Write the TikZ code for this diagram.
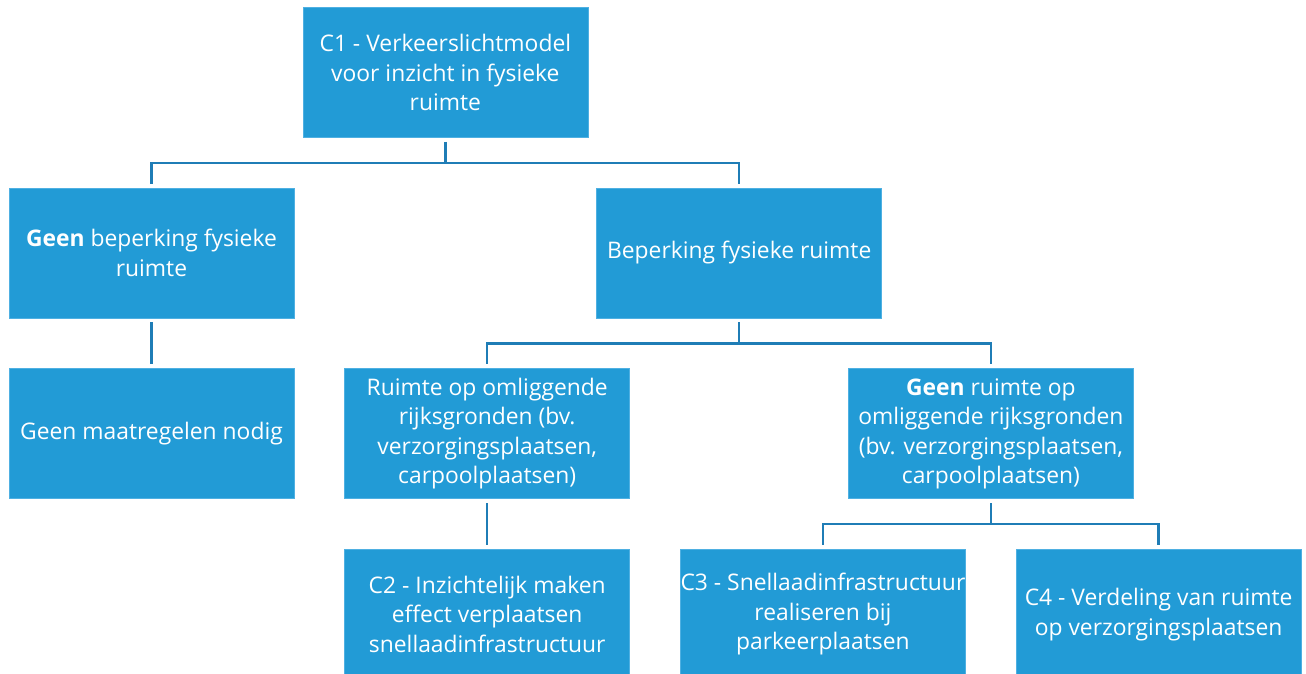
\documentclass[tikz,border=0pt]{standalone}
\usepackage{fontspec}
\setmainfont{Open Sans}
\usetikzlibrary{positioning,calc}
\definecolor{boxblue}{HTML}{229BD6}
\definecolor{boxedge}{HTML}{4FB0E2}
\definecolor{linkblue}{HTML}{1F7DB6}
\begin{document}
\begin{tikzpicture}[box/.style={draw=boxedge, line width=0.4pt, fill=boxblue, text=white, align=center, minimum width=5.7cm, minimum height=2.6cm, inner sep=0pt, font=\fontsize{13}{16.8}\selectfont}, link/.style={draw=linkblue, line width=1.4pt}, node distance=1cm and 1cm]
\useasboundingbox (-3.03,5.06) rectangle (23.09,-8.42);
\node[box] (nolimit) {\textbf{Geen} beperking fysieke\\ruimte};
\node[box, right=6.04cm of nolimit] (limit) {Beperking fysieke ruimte};
\path (nolimit) -- (limit) coordinate[midway] (mid);
\node[box, above=2.3cm of mid] (c1) {C1 - Verkeerslichtmodel\\voor inzicht in fysieke\\ruimte};
\node[box, below=of nolimit] (nomeasure) {Geen maatregelen nodig};
\node[box, right=of nomeasure] (space) {Ruimte op omliggende\\rijksgronden (bv.\\verzorgingsplaatsen,\\carpoolplaatsen)};
\node[box, right=4.36cm of space] (nospace) {\textbf{Geen} ruimte op\\omliggende rijksgronden\\(bv. verzorgingsplaatsen,\\carpoolplaatsen)};
\node[box, below=of space] (c2) {C2 - Inzichtelijk maken\\effect verplaatsen\\snellaadinfrastructuur};
\node[box, right=of c2] (c3) {C3 - Snellaadinfrastructuur\\realiseren bij\\parkeerplaatsen};
\node[box, right=of c3] (c4) {C4 - Verdeling van ruimte\\op verzorgingsplaatsen};
\draw[link] ([yshift=-0.8mm]c1.south) -- ++(0,-0.42) -| ([yshift=0.8mm]nolimit.north);
\draw[link] ([yshift=-0.8mm]c1.south) -- ++(0,-0.42) -| ([yshift=0.8mm]limit.north);
\draw[link] ([yshift=-0.8mm]nolimit.south) -- ([yshift=0.8mm]nomeasure.north);
\draw[link] ([yshift=-0.8mm]limit.south) -- ++(0,-0.42) -| ([yshift=0.8mm]space.north);
\draw[link] ([yshift=-0.8mm]limit.south) -- ++(0,-0.42) -| ([yshift=0.8mm]nospace.north);
\draw[link] ([yshift=-0.8mm]space.south) -- ([yshift=0.8mm]c2.north);
\draw[link] ([yshift=-0.8mm]nospace.south) -- ++(0,-0.42) -| ([yshift=0.8mm]c3.north);
\draw[link] ([yshift=-0.8mm]nospace.south) -- ++(0,-0.42) -| ([yshift=0.8mm]c4.north);
\end{tikzpicture}
\end{document}
